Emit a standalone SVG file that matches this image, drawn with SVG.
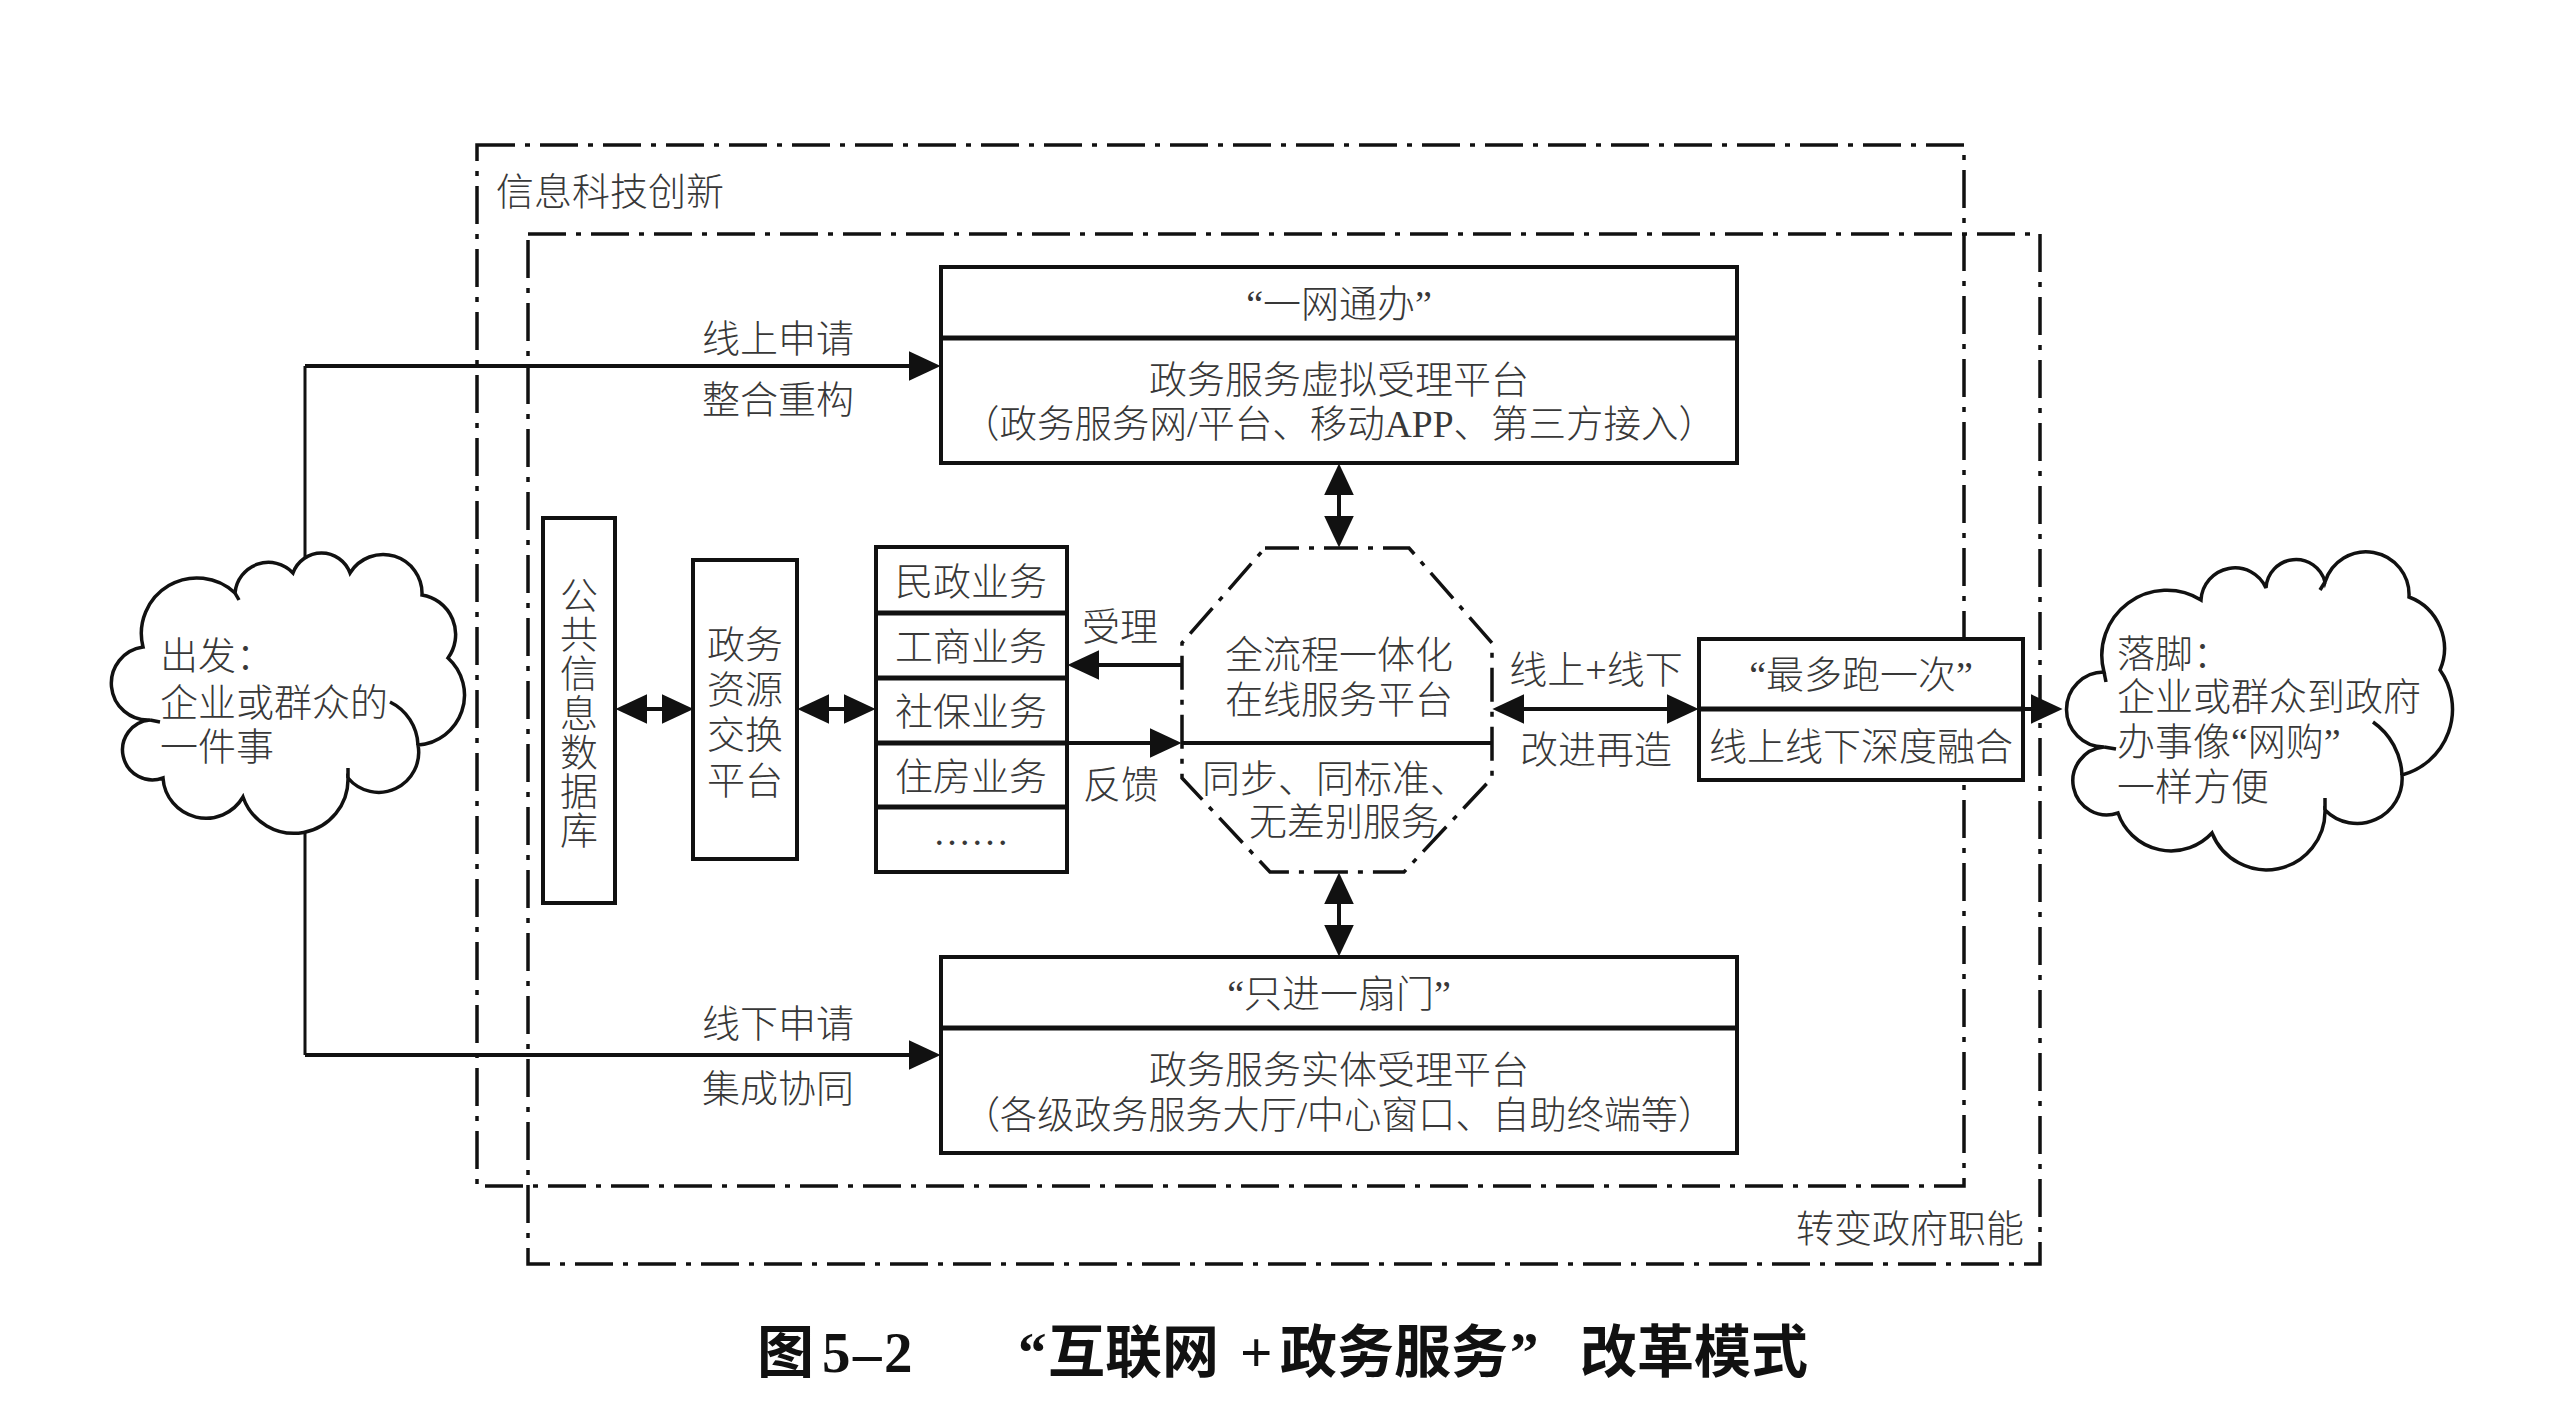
<svg xmlns="http://www.w3.org/2000/svg" width="2560" height="1404" viewBox="0 0 2560 1404">
<style>
.t{font-family:'Liberation Serif','Noto Sans CJK SC',serif;font-size:38px;font-weight:300;fill:#383838}
.m{text-anchor:middle}
.cap{font-family:'Liberation Serif','Noto Sans CJK SC',sans-serif;font-weight:bold;font-size:57px;fill:#111}
.box{fill:#fff;stroke:#111;stroke-width:4}
.dv{stroke:#111;stroke-width:5}
.dd{fill:none;stroke:#111;stroke-width:3.5;stroke-dasharray:38 10 5 10}
.oct{fill:#fff;stroke:#111;stroke-width:3.5;stroke-dasharray:34 10 5 10}
.ln{stroke:#111;stroke-width:4;fill:none}
.thin{stroke:#111;stroke-width:3;fill:none}
.cl{fill:#fff;stroke:#111;stroke-width:3.5}
.curl{fill:none;stroke:#111;stroke-width:3.5}
</style>
<defs>
<marker id="ah" viewBox="0 0 10 10" refX="7" refY="5" markerWidth="32" markerHeight="30" markerUnits="userSpaceOnUse" preserveAspectRatio="none" orient="auto-start-reverse">
<path d="M0,0 L10,5 L0,10 z" fill="#111"/>
</marker>
</defs>
<rect width="2560" height="1404" fill="#fff"/>

<g id="frame-info">
<rect class="dd" x="477" y="145" width="1487" height="1041"/>
<text class="t" x="496" y="205">信息科技创新</text>
</g>
<g id="frame-gov">
<rect class="dd" x="528" y="234" width="1512" height="1030"/>
<text class="t" x="2024" y="1242" text-anchor="end">转变政府职能</text>
</g>

<g id="connectors">
<line class="thin" x1="305" y1="366" x2="305" y2="1055"/>
<line class="ln" x1="305" y1="366" x2="931" y2="366" marker-end="url(#ah)"/>
<line class="ln" x1="305" y1="1055" x2="931" y2="1055" marker-end="url(#ah)"/>
<line class="ln" x1="625" y1="709" x2="684" y2="709" marker-start="url(#ah)" marker-end="url(#ah)"/>
<line class="ln" x1="807" y1="709" x2="866" y2="709" marker-start="url(#ah)" marker-end="url(#ah)"/>
<line class="ln" x1="1182" y1="665" x2="1077" y2="665" marker-end="url(#ah)"/>
<line class="ln" x1="1067" y1="743" x2="1172" y2="743" marker-end="url(#ah)"/>
<line class="ln" x1="1339" y1="473" x2="1339" y2="538" marker-start="url(#ah)" marker-end="url(#ah)"/>
<line class="ln" x1="1339" y1="882" x2="1339" y2="947" marker-start="url(#ah)" marker-end="url(#ah)"/>
<line class="ln" x1="1502" y1="709" x2="1689" y2="709" marker-start="url(#ah)" marker-end="url(#ah)"/>
<line class="ln" x1="2023" y1="709" x2="2053" y2="709" marker-end="url(#ah)"/>
<text class="t m" x="778" y="352">线上申请</text>
<text class="t m" x="778" y="413">整合重构</text>
<text class="t m" x="778" y="1037">线下申请</text>
<text class="t m" x="778" y="1102">集成协同</text>
<text class="t m" x="1120" y="640">受理</text>
<text class="t m" x="1121" y="798">反馈</text>
<text class="t m" x="1596" y="683">线上+线下</text>
<text class="t m" x="1596" y="763">改进再造</text>
</g>

<g id="cloud-start">
<path class="cl" d="M163,778 A30,30 0 1 1 150,720 A36.7,36.7 0 0 1 143,647 A55.6,55.6 0 0 1 235,593 A33.6,33.6 0 0 1 293,573 A30.3,30.3 0 0 1 350,573 A38.9,38.9 0 0 1 422,595 A40,40 0 0 1 448,658 A50,50 0 0 1 418,745 A40,40 0 0 1 348,778 A54,54 0 0 1 243,797 A43,43 0 0 1 163,778 Z"/>
<path class="curl" d="M390,702 A50,50 0 0 1 418,745"/>
<path class="curl" d="M150,720 L160,722"/>
<path class="curl" d="M348,778 L348,768"/>
<path class="curl" d="M235,593 L239,600"/>
<text class="t" x="160" y="669">出发：</text>
<text class="t" x="160" y="716">企业或群众的</text>
<text class="t" x="160" y="760">一件事</text>
</g>

<g id="node-online">
<rect class="box" x="941" y="267" width="796" height="196"/>
<line class="dv" x1="941" y1="338" x2="1737" y2="338"/>
<text class="t m" x="1339" y="317">“一网通办”</text>
<text class="t m" x="1339" y="393">政务服务虚拟受理平台</text>
<text class="t m" x="1339" y="437" textLength="754" lengthAdjust="spacingAndGlyphs">（政务服务网/平台、移动APP、第三方接入）</text>
</g>

<g id="node-offline">
<rect class="box" x="941" y="957" width="796" height="196"/>
<line class="dv" x1="941" y1="1028" x2="1737" y2="1028"/>
<text class="t m" x="1339" y="1007">“只进一扇门”</text>
<text class="t m" x="1339" y="1083">政务服务实体受理平台</text>
<text class="t m" x="1339" y="1128" textLength="752" lengthAdjust="spacingAndGlyphs">（各级政务服务大厅/中心窗口、自助终端等）</text>
</g>

<g id="node-db">
<rect class="box" x="543" y="518" width="72" height="385"/>
<text class="t m"><tspan x="579" y="609">公</tspan><tspan x="579" y="648">共</tspan><tspan x="579" y="687">信</tspan><tspan x="579" y="727">息</tspan><tspan x="579" y="766">数</tspan><tspan x="579" y="805">据</tspan><tspan x="579" y="844">库</tspan></text>
</g>

<g id="node-exchange">
<rect class="box" x="693" y="560" width="104" height="299"/>
<text class="t m"><tspan x="745" y="658">政务</tspan><tspan x="745" y="703">资源</tspan><tspan x="745" y="748">交换</tspan><tspan x="745" y="794">平台</tspan></text>
</g>

<g id="node-business">
<rect class="box" x="876" y="547" width="191" height="325"/>
<line class="dv" x1="876" y1="613" x2="1067" y2="613"/>
<line class="dv" x1="876" y1="678" x2="1067" y2="678"/>
<line class="dv" x1="876" y1="743" x2="1067" y2="743"/>
<line class="dv" x1="876" y1="807" x2="1067" y2="807"/>
<text class="t m" x="971" y="595">民政业务</text>
<text class="t m" x="971" y="660">工商业务</text>
<text class="t m" x="971" y="725">社保业务</text>
<text class="t m" x="971" y="790">住房业务</text>
<text class="t m" x="971" y="845">……</text>
</g>

<g id="node-platform">
<polygon class="oct" points="1265,548 1409,548 1492,643 1492,778 1404,872 1270,872 1182,778 1182,643"/>
<line class="ln" x1="1182" y1="743" x2="1492" y2="743"/>
<text class="t m" x="1339" y="668">全流程一体化</text>
<text class="t m" x="1339" y="713">在线服务平台</text>
<text class="t m" x="1335" y="792">同步、同标准、</text>
<text class="t m" x="1344" y="835">无差别服务</text>
</g>

<g id="node-once">
<rect class="box" x="1699" y="639" width="324" height="141"/>
<line class="dv" x1="1699" y1="709" x2="2023" y2="709"/>
<text class="t m" x="1861" y="688">“最多跑一次”</text>
<text class="t m" x="1861" y="760">线上线下深度融合</text>
</g>

<g id="cloud-end">
<path class="cl" d="M2104,747 A37.5,37.5 0 1 1 2104,672 A65,65 0 0 1 2201,600 A34,34 0 0 1 2266,588 A30,30 0 0 1 2325,582 A43,43 0 0 1 2409,597 A55,55 0 0 1 2440,670 A68,68 0 0 1 2402,775 A45,45 0 0 1 2325,810 A58.6,58.6 0 0 1 2212,833 A56,56 0 0 1 2118,813 A34,34 0 1 1 2104,747 Z"/>
<path class="curl" d="M2373,722 A68,68 0 0 1 2402,775"/>
<path class="curl" d="M2104,672 L2106,682"/>
<path class="curl" d="M2104,747 L2116,749"/>
<path class="curl" d="M2325,582 L2320,590"/>
<path class="curl" d="M2325,810 L2325,798"/>
<text class="t" x="2117" y="667">落脚：</text>
<text class="t" x="2117" y="710">企业或群众到政府</text>
<text class="t" x="2117" y="755">办事像“网购”</text>
<text class="t" x="2117" y="800">一样方便</text>
</g>

<g id="caption">
<text class="cap" y="1372"><tspan x="757">图</tspan><tspan x="822">5</tspan><tspan x="853">–</tspan><tspan x="884">2</tspan><tspan x="1018">“</tspan><tspan x="1048">互联网</tspan><tspan x="1240">+</tspan><tspan x="1280">政务服务</tspan><tspan x="1510">”</tspan><tspan x="1580">改革模式</tspan></text>
</g>
</svg>
